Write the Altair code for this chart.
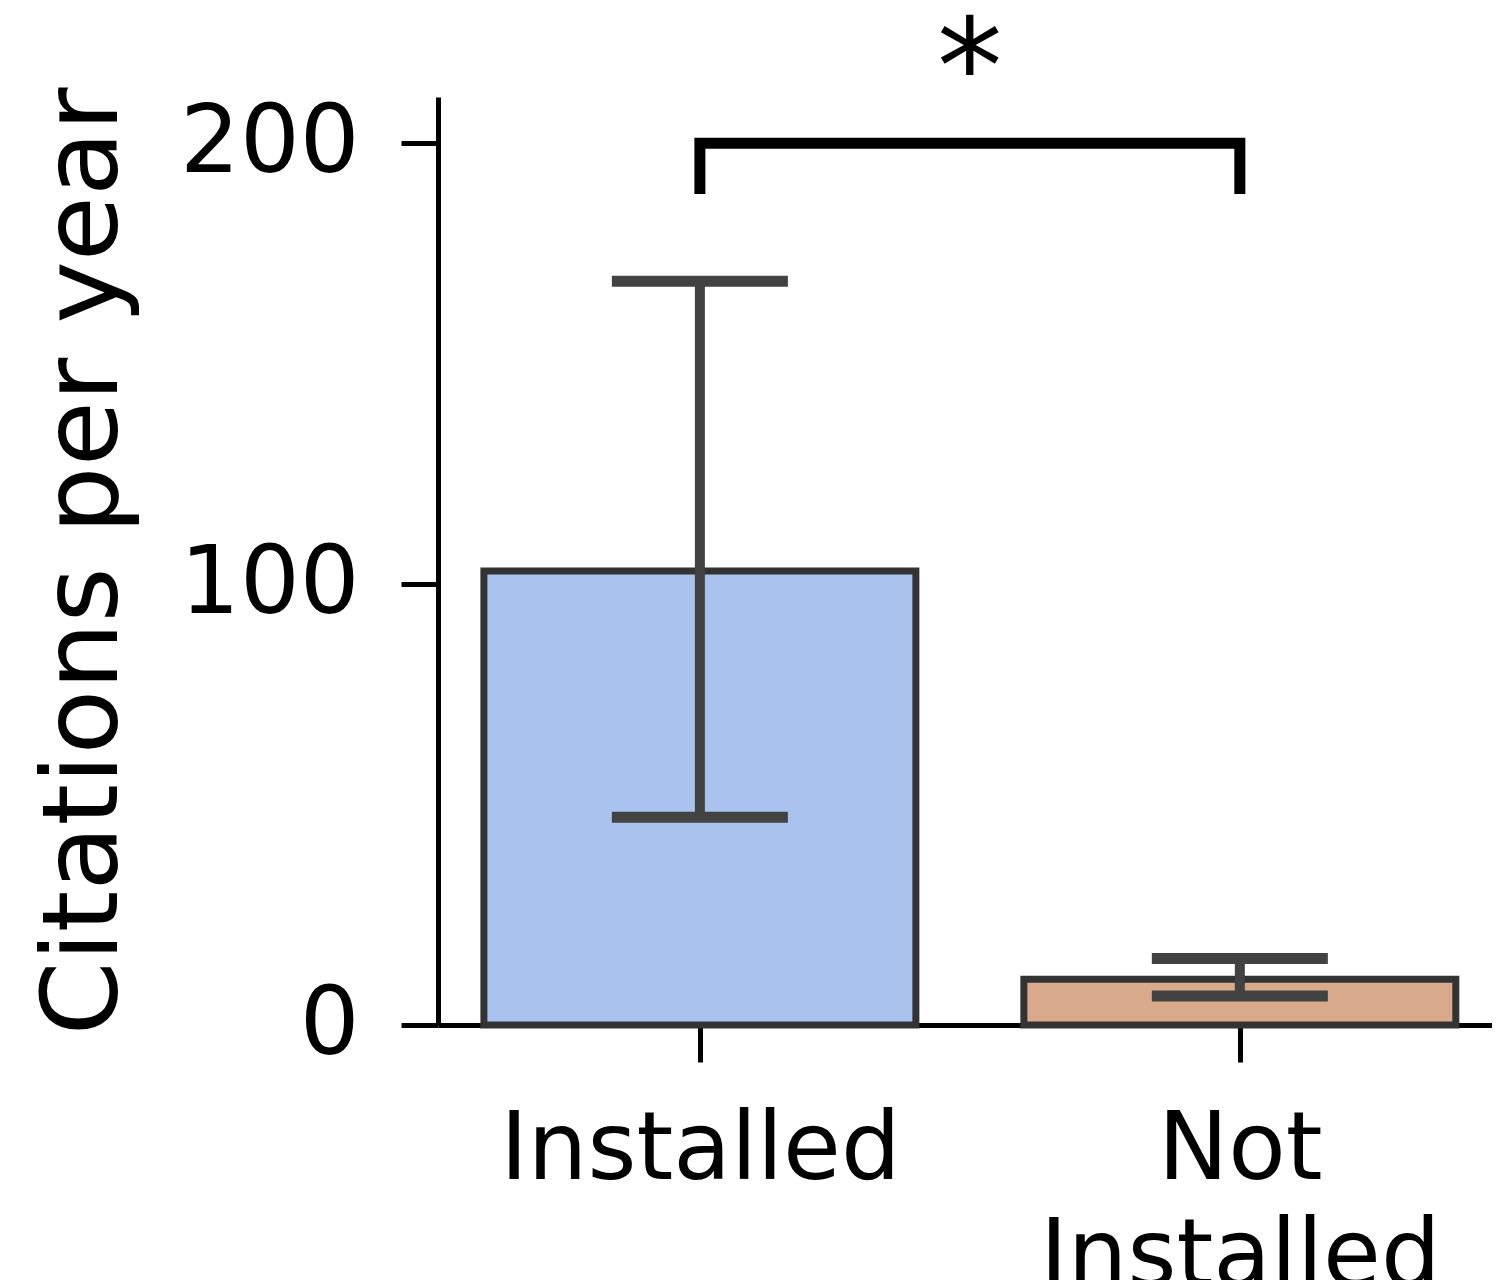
import json
import altair as alt
import pandas as pd

# ---- data ----
categories = ["Installed", "Not Installed"]
tick_labels = [["Installed"], ["Not", "Installed"]]
means = [103.0, 10.4]
err_low = [47.1, 6.6]
err_high = [168.7, 15.1]
bar_colors = ["#aac3ee", "#d9a98c"]

# significance annotation
bracket_from = 0
bracket_to = 1
bracket_top = 200.0
bracket_end = 188.5
sig_label = "*"
sig_y = 206.8

FONT = "DejaVu Sans"
Y_TITLE = "Citations per year"

df = pd.DataFrame({
    "category": categories,
    "pos": list(range(len(categories))),
    "mean": means,
    "lo": err_low,
    "hi": err_high,
    "color": bar_colors,
})

bracket_df = pd.DataFrame({
    "x": [bracket_from, bracket_from, bracket_to, bracket_to],
    "y": [bracket_end, bracket_top, bracket_top, bracket_end],
    "order": [0, 1, 2, 3],
})
star_df = pd.DataFrame({"x": [(bracket_from + bracket_to) / 2], "y": [sig_y], "t": [sig_label]})

x_scale = alt.Scale(domain=[-0.485, 1.467], nice=False, zero=False)
y_scale = alt.Scale(domain=[0, 210.5], nice=False)

label_expr = f"{json.dumps(tick_labels)}[round(datum.value)]"

x_axis = alt.Axis(values=[0, 1], labelExpr=label_expr, title=None, labelPadding=42,
                  labelLineHeight=107, labelOverlap=False, labelFlush=False, labelBaseline="top",
                  labelLimit=2000)
y_axis = alt.Axis(values=[0, 100, 200], format="d", title=Y_TITLE, labelPadding=42,
                  titlePadding=100, labelOverlap=False, labelFlush=False, labelLimit=2000)


def X(field, **kw):
    return alt.X(field, type="quantitative", scale=x_scale, axis=x_axis, **kw)


def Y(field, **kw):
    return alt.Y(field, type="quantitative", scale=y_scale, axis=y_axis, **kw)


base = alt.Chart(df)

bars = base.transform_calculate(
    x0="datum.pos - 0.4", x1="datum.pos + 0.4"
).mark_rect(stroke="#333333", strokeWidth=7).encode(
    x=X("x0:Q"),
    x2="x1:Q",
    y=Y("mean:Q"),
    y2=alt.datum(0),
    color=alt.Color("category:N", scale=alt.Scale(domain=categories, range=bar_colors), legend=None),
)

err = base.mark_rule(color="#424242", strokeWidth=10).encode(
    x=X("pos:Q"),
    y=Y("lo:Q"),
    y2="hi:Q",
)

caps = base.transform_fold(["lo", "hi"], as_=["which", "val"]).transform_calculate(
    c0="datum.pos - 0.163", c1="datum.pos + 0.163"
).mark_rule(color="#424242", strokeWidth=11).encode(
    x=X("c0:Q"),
    x2="c1:Q",
    y=Y("val:Q"),
)

bracket = alt.Chart(bracket_df).mark_line(color="black", strokeWidth=11, strokeJoin="miter").encode(
    x=X("x:Q"),
    y=Y("y:Q"),
    order="order:Q",
)

star = alt.Chart(star_df).mark_text(font=FONT, fontSize=131, baseline="alphabetic", align="center",
                                    color="black").encode(
    x=X("x:Q"),
    y=Y("y:Q"),
    text="t:N",
)

chart = alt.layer(bars, err, caps, bracket, star).properties(
    width=1054,
    height=928,
    autosize=alt.AutoSizeParams(type="none"),
    padding={"left": 430, "top": 89, "right": 0, "bottom": 255},
    background="white",
).configure_axis(
    domainColor="black", domainWidth=5, tickColor="black", tickWidth=5, tickSize=37,
    labelFont=FONT, labelColor="black", labelFontSize=94,
    titleFont=FONT, titleFontSize=106, titleFontWeight="normal", titleColor="black",
    grid=False,
).configure_view(stroke=None)

chart.save("out.html", embed_options={"renderer": "svg", "actions": False})
